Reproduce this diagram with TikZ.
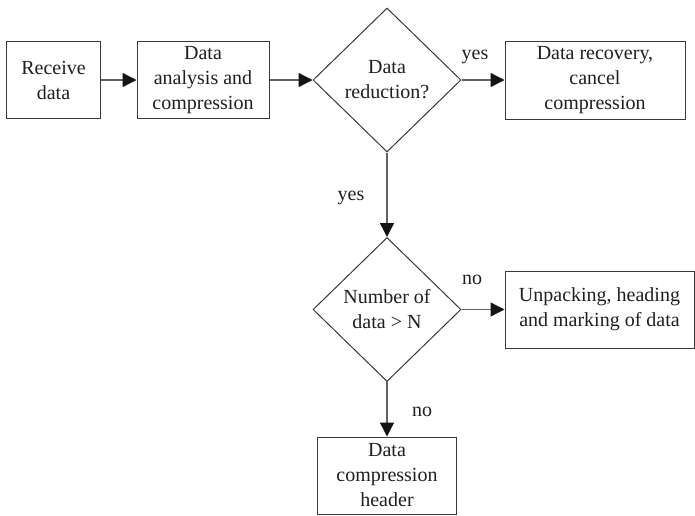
\documentclass[tikz,border=0pt]{standalone}
\usepackage{fontspec}
\setmainfont{Liberation Serif}
\usetikzlibrary{shapes.geometric,arrows.meta}
\begin{document}
\begin{tikzpicture}[x=1pt,y=-1pt,
  txt/.style={font=\fontsize{20}{25}\selectfont, text=black!88},
  box/.style={txt, draw=black!78, line width=1pt, rectangle, inner sep=0pt, align=center},
  dec/.style={txt, draw=black!78, line width=1pt, diamond, inner sep=0pt, align=center,
    minimum width=148pt, minimum height=144pt},
  flow/.style={draw=black!62, line width=1.4pt,
    -{Triangle[length=14pt,width=14pt,color=black!92]}},
  lbl/.style={txt, inner sep=0pt}
]
\useasboundingbox (0,0) rectangle (695,515);

% process boxes and decisions
\node[box, minimum width=94pt, minimum height=77pt] (recv) at (53.5,80) {Receive\\data};
\node[box, minimum width=132pt, minimum height=77pt] (anal) at (203,80) {Data\\analysis and\\compression};
\node[dec] (dec1) at (387,80) {Data\\reduction?};
\node[box, minimum width=180pt, minimum height=78pt] (recov) at (595,80) {Data recovery,\\cancel\\compression};
\node[dec] (dec2) at (387,309.5) {Number of\\data \textgreater{} N};
\node[box, minimum width=189pt, minimum height=77pt] (unpack) at (599.5,309.5) {Unpacking, heading\\and marking of data};
\node[box, minimum width=139pt, minimum height=77pt] (header) at (387,475.5) {Data\\compression\\header};

% connectors
\draw[flow] (recv) -- (anal);
\draw[flow] (anal) -- (dec1.west);
\draw[flow] (dec1.east) -- (recov);
\draw[flow] (dec1.south) -- (dec2.north);
\draw[flow] (dec2.east) -- (unpack);
\draw[flow] (dec2.south) -- (header);

% branch labels
\node[lbl] (l1) at (475,57) {yes};
\node[lbl] (l2) at (351,198) {yes};
\node[lbl] (l3) at (472,280) {no};
\node[lbl] (l4) at (422,412) {no};
\end{tikzpicture}
\end{document}
